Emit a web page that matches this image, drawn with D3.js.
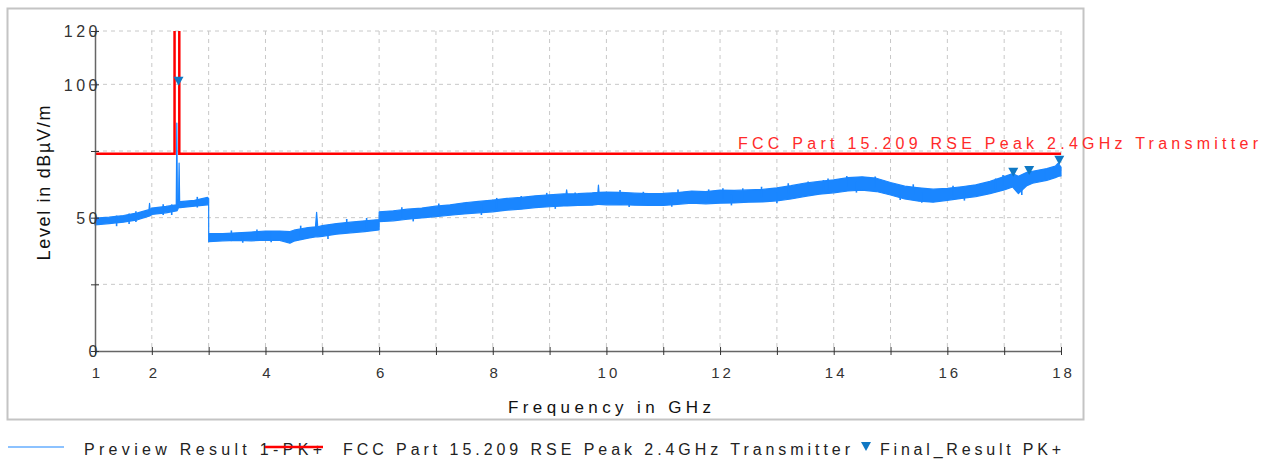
<!DOCTYPE html>
<html>
<head>
<meta charset="utf-8">
<script src="https://cdn.jsdelivr.net/npm/d3@7/dist/d3.min.js"></script>
<style>
  html, body { margin: 0; padding: 0; background: #fff; }
  svg { display: block; font-family: "Liberation Sans", "DejaVu Sans", sans-serif; }
</style>
</head>
<body>
<svg id="chart" width="1277" height="459"></svg>
<script>
// ---------- DATA ----------
// Preview Result 1-PK+ : trace envelope (GHz, dBµV/m)
const traceFreq = [1.00,1.25,1.50,1.75,1.95,1.96,1.97,2.00,2.25,2.43,2.44,2.45,2.47,2.48,2.49,2.50,2.75,2.98,3.00,
  3.001,3.25,3.50,3.75,4.00,4.25,4.43,4.50,4.75,4.88,4.90,4.92,5.00,5.25,5.50,5.75,6.00,
  6.001,6.25,6.50,6.75,7.00,7.25,7.50,7.75,8.00,8.25,8.50,8.75,9.00,9.25,9.29,9.30,9.31,9.50,9.75,9.85,9.86,9.87,
  10.00,10.25,10.50,10.75,11.00,11.25,11.50,11.75,12.00,12.25,12.50,12.75,13.00,13.25,13.50,13.75,
  14.00,14.25,14.50,14.75,15.00,15.25,15.50,15.75,16.00,16.25,16.50,16.75,17.00,17.15,17.25,17.40,
  17.50,17.75,17.90,17.95,18.00];
const traceLo = [47.3,47.8,48.3,49.2,50.6,50.6,50.7,51.2,51.8,52.5,52.5,52.8,53.8,53.8,53.8,53.8,54.3,54.8,54.8,
  41.0,41.3,41.5,41.3,41.6,41.5,40.4,41.2,42.3,42.8,42.8,42.8,43.0,43.8,44.3,44.8,45.4,
  48.5,48.8,49.4,49.9,50.4,50.9,51.4,51.8,52.2,52.8,53.2,53.8,54.1,54.4,54.4,54.4,54.4,54.6,54.7,55.0,55.0,55.0,
  54.8,54.9,54.7,54.6,54.6,55.0,55.4,55.2,55.4,55.5,55.8,55.9,56.3,57.0,58.0,58.8,
  59.3,60.0,60.3,59.8,58.5,57.0,56.2,55.8,56.5,57.2,57.9,59.0,60.4,61.5,59.0,62.0,
  62.9,64.0,65.0,65.5,65.7];
const traceHi = [49.8,50.2,50.8,51.8,53.0,55.4,53.0,53.6,54.2,54.8,85.5,55.0,55.5,70.5,56.0,56.0,56.5,57.6,57.2,
  44.1,44.0,44.3,44.6,45.0,45.0,44.8,45.3,46.3,46.6,52.0,46.6,47.0,47.8,48.3,48.8,49.3,
  52.2,52.6,53.2,53.6,54.3,54.8,55.6,56.1,56.6,57.2,57.6,58.2,58.6,58.9,58.9,60.4,58.9,59.0,59.3,59.5,62.2,59.5,
  59.6,59.5,59.2,59.0,59.1,59.4,60.0,59.8,60.3,60.2,60.4,60.6,61.2,62.0,63.0,63.6,
  64.2,65.0,65.3,64.8,63.2,61.8,61.2,60.7,61.0,61.6,62.3,63.6,65.4,66.5,65.5,67.0,
  67.4,68.4,69.3,70.4,69.0];

// small noise peaks and dips seen on the trace edges (GHz, dBµV/m)
const peakFreq  = [1.38,1.72,2.20,2.80,3.40,3.85,4.62,5.43,5.78,6.40,7.05,7.54,8.07,8.50,8.95,9.45,
  10.24,10.65,11.26,11.80,12.05,12.40,12.73,13.20,13.55,13.82,13.90,14.23,14.73,15.40,16.10,16.60,16.85,16.98,17.72];
const peakLevel = [50.8,52.4,55.0,57.8,45.2,45.6,47.0,49.5,49.9,53.9,55.3,55.9,57.4,58.1,59.3,59.4,
  60.4,59.7,60.6,60.6,61.0,61.0,61.6,62.9,63.6,64.1,64.7,65.6,65.4,62.5,62.0,63.0,64.7,66.0,67.9];
const dipFreq  = [1.60,2.35,3.60,4.10,5.10,6.60,7.80,9.10,10.40,11.15,12.20,13.00,14.40,15.17,15.55,16.30,17.31];
const dipLevel = [47.6,51.0,40.6,40.8,42.0,48.6,51.0,53.3,54.0,54.1,54.6,55.4,59.4,56.6,55.6,56.4,58.5];

// FCC Part 15.209 RSE Peak 2.4GHz Transmitter limit line
const limitFreq  = [1, 2.4, 2.4, 2.4835, 2.4835, 18];
const limitLevel = [74, 74, 130, 130, 74, 74];

// Final_Result PK+ markers
const markerFreq  = [2.47, 17.16, 17.44, 17.97];
const markerLevel = [99.5, 65.3, 66.0, 69.8];

// Axes
const xTicks = [1,2,3,4,5,6,7,8,9,10,11,12,13,14,15,16,17,18];
const xTickLabels = [1,2,4,6,8,10,12,14,16,18];
const yTicks = [0,25,50,75,100,120];
const yTickLabels = [0,50,100,120];

const seriesNames = ["Preview Result 1-PK+", "FCC Part 15.209 RSE Peak 2.4GHz Transmitter", "Final_Result PK+"];
const limitLabel = "FCC Part 15.209 RSE Peak 2.4GHz Transmitter";
const xTitle = "Frequency in GHz";
const yTitle = "Level in dBµV/m";

// ---------- DRAWING ----------
const traceColor = "#1a86ff";
const limitColor = "#ff0000";
const markerColor = "#0f78c4";
const gridColor = "#c8c8c8";
const axisColor = "#666";

const svg = d3.select("#chart");

// outer frame
svg.append("rect").attr("x", 7.5).attr("y", 8.5).attr("width", 1076).attr("height", 411)
  .attr("fill", "none").attr("stroke", "#c4c4c4").attr("stroke-width", 2);

const x = d3.scaleLinear().domain([1, 18]).range([95, 1061]);
const y = d3.scaleLinear().domain([0, 120]).range([351, 31]);

svg.append("clipPath").attr("id", "plotclip").append("rect")
  .attr("x", 95).attr("y", 31).attr("width", 968).attr("height", 320);

// grid
const grid = svg.append("g");
grid.selectAll("line.v").data(xTicks.filter(d => d > 1)).join("line")
  .attr("x1", d => x(d)).attr("x2", d => x(d)).attr("y1", y(120)).attr("y2", y(0))
  .attr("stroke", gridColor).attr("stroke-dasharray", "4,4").attr("stroke-width", 1);
grid.selectAll("line.h").data(yTicks.filter(d => d > 0)).join("line")
  .attr("x1", x(1)).attr("x2", x(18)).attr("y1", d => y(d)).attr("y2", d => y(d))
  .attr("stroke", gridColor).attr("stroke-dasharray", "4,4").attr("stroke-width", 1);

// trace
const traceData = traceFreq.map((f, i) => ({ f, lo: traceLo[i], hi: traceHi[i] }));
const area = d3.area().x(d => x(d.f)).y0(d => y(d.lo)).y1(d => y(d.hi));
svg.append("path").datum(traceData).attr("d", area)
  .attr("fill", traceColor).attr("stroke", traceColor).attr("stroke-width", 1.2)
  .attr("stroke-linejoin", "round");
// noise peaks / dips on the trace edges
svg.append("g").selectAll("line").data(peakFreq.map((f, i) => ({ f, v: peakLevel[i] }))).join("line")
  .attr("x1", d => x(d.f)).attr("x2", d => x(d.f))
  .attr("y1", d => y(d.v)).attr("y2", d => y(d.v - 4))
  .attr("stroke", traceColor).attr("stroke-width", 1.6);
svg.append("g").selectAll("line").data(dipFreq.map((f, i) => ({ f, v: dipLevel[i] }))).join("line")
  .attr("x1", d => x(d.f)).attr("x2", d => x(d.f))
  .attr("y1", d => y(d.v)).attr("y2", d => y(d.v + 4))
  .attr("stroke", traceColor).attr("stroke-width", 1.6);

// limit line
const limitData = limitFreq.map((f, i) => ({ f, v: limitLevel[i] }));
svg.append("path").datum(limitData)
  .attr("clip-path", "url(#plotclip)")
  .attr("d", d3.line().x(d => x(d.f)).y(d => y(d.v)))
  .attr("fill", "none").attr("stroke", limitColor).attr("stroke-width", 2.5);

// limit label
svg.append("text").attr("x", 738).attr("y", 149)
  .attr("textLength", 520).attr("lengthAdjust", "spacing")
  .attr("font-size", 16).attr("fill", "#ff2a2a").text(limitLabel);

// markers (down triangles, tip at value)
const tri = (cx, cy) => `M${cx - 5},${cy - 9}L${cx + 5},${cy - 9}L${cx},${cy}Z`;
svg.append("g").selectAll("path").data(markerFreq.map((f, i) => ({ f, v: markerLevel[i] }))).join("path")
  .attr("d", d => tri(x(d.f), y(d.v))).attr("fill", markerColor);

// x axis
const xAxis = d3.axisBottom(x).tickValues(xTicks)
  .tickFormat(d => xTickLabels.includes(d) ? d : "").tickSizeOuter(0);
const gx = svg.append("g").attr("transform", `translate(0,${y(0)})`).call(xAxis);
gx.select(".domain").attr("stroke", axisColor).attr("stroke-width", 1.5);
gx.selectAll(".tick line").attr("y1", -4).attr("y2", 4).attr("stroke", "#333");
gx.selectAll(".tick text").attr("y", 27).attr("dy", 0).attr("dx", 2)
  .attr("font-size", 15).attr("letter-spacing", 3).attr("fill", "#333")
  .attr("font-family", "Liberation Sans, DejaVu Sans, sans-serif");

// y axis
const yAxis = d3.axisLeft(y).tickValues(yTicks)
  .tickFormat(d => yTickLabels.includes(d) ? d : "").tickSizeOuter(0);
const gy = svg.append("g").attr("transform", `translate(${x(1)},0)`).call(yAxis);
gy.select(".domain").attr("stroke", axisColor).attr("stroke-width", 1.5);
gy.selectAll(".tick line").attr("x1", -4).attr("x2", 4).attr("stroke", "#333");
gy.selectAll(".tick text").attr("x", 6).attr("dy", "0.36em")
  .attr("font-size", 16).attr("letter-spacing", 3.5).attr("fill", "#333")
  .attr("font-family", "Liberation Sans, DejaVu Sans, sans-serif");

// axis titles
svg.append("text").attr("x", 508).attr("y", 413)
  .attr("textLength", 203).attr("lengthAdjust", "spacing")
  .attr("font-size", 17).attr("fill", "#111").text(xTitle);
svg.append("text").attr("transform", "translate(50,183) rotate(-90)")
  .attr("text-anchor", "middle").attr("textLength", 155).attr("lengthAdjust", "spacing")
  .attr("font-size", 18).attr("fill", "#111").text(yTitle);

// legend
const lg = svg.append("g");
lg.append("line").attr("x1", 8).attr("x2", 64).attr("y1", 447).attr("y2", 447)
  .attr("stroke", traceColor).attr("stroke-width", 1.2);
lg.append("text").attr("x", 84).attr("y", 455).attr("textLength", 238).attr("lengthAdjust", "spacing")
  .attr("font-size", 16).attr("fill", "#222").text(seriesNames[0]);
lg.append("line").attr("x1", 265).attr("x2", 323).attr("y1", 447).attr("y2", 447)
  .attr("stroke", limitColor).attr("stroke-width", 2.5);
lg.append("text").attr("x", 343).attr("y", 455).attr("textLength", 507).attr("lengthAdjust", "spacing")
  .attr("font-size", 16).attr("fill", "#222").text(seriesNames[1]);
lg.append("path").attr("d", tri(866, 451)).attr("fill", markerColor);
lg.append("text").attr("x", 880).attr("y", 455).attr("textLength", 181).attr("lengthAdjust", "spacing")
  .attr("font-size", 16).attr("fill", "#222").text(seriesNames[2]);
</script>
</body>
</html>
